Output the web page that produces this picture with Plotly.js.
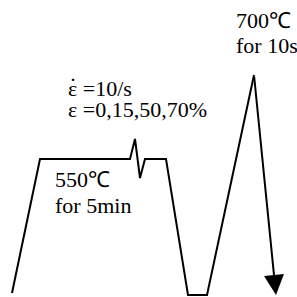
<!DOCTYPE html>
<html><head><meta charset="utf-8">
<script src="https://cdn.plot.ly/plotly-3.0.1.min.js"></script>
<style>html,body{margin:0;padding:0;background:#fff;}#c{width:297px;height:297px;}</style>
</head><body><div id="c"></div>
<script>
// Schematic thermal path (time units, temperature units as drawn)
const pathTime = [12, 40, 130, 135, 140, 145, 166, 188, 207, 254, 276];
const pathTemp = [293, 159, 159, 139, 178, 159, 159, 295, 295, 75, 295];
const labels = ["700℃", "for 10s", "ε =10/s", "ε =0,15,50,70%", "550℃", "for 5min"];
const labelX = [234, 234, 66, 66, 53, 53];
const labelY = [20, 45, 88, 109, 179, 205];
const dotLabel = "˙";
const dotX = 67, dotY = 86;

const n = pathTime.length;
const traces = [{
  x: pathTime.slice(0, n - 1),
  y: pathTemp.slice(0, n - 1),
  mode: 'lines', type: 'scatter',
  line: {color: '#000', width: 2},
  hoverinfo: 'skip'
}];
const annotations = labels.map((t, i) => ({
  x: labelX[i], y: labelY[i], xref: 'x', yref: 'y', text: t, showarrow: false,
  xanchor: 'left', yanchor: 'middle',
  font: {family: 'Liberation Serif', size: 22, color: '#000'}
}));
annotations.push({
  x: dotX, y: dotY, xref: 'x', yref: 'y', text: dotLabel, showarrow: false,
  xanchor: 'left', yanchor: 'middle',
  font: {family: 'Liberation Serif', size: 24, color: '#000'}
});
annotations.push({
  x: pathTime[n - 1], y: pathTemp[n - 1], ax: pathTime[n - 2], ay: pathTemp[n - 2],
  xref: 'x', yref: 'y', axref: 'x', ayref: 'y', text: '', showarrow: true,
  arrowhead: 2, arrowsize: 2, arrowwidth: 2, arrowcolor: '#000', standoff: 0
});
Plotly.newPlot('c', traces, {
  width: 297, height: 297, margin: {l: 0, r: 0, t: 0, b: 0},
  font: {family: 'Liberation Serif', color: '#000'},
  paper_bgcolor: '#fff', plot_bgcolor: '#fff', showlegend: false,
  xaxis: {range: [0, 297], visible: false, fixedrange: true},
  yaxis: {range: [297, 0], visible: false, fixedrange: true},
  annotations: annotations
}, {staticPlot: true});
</script></body></html>
